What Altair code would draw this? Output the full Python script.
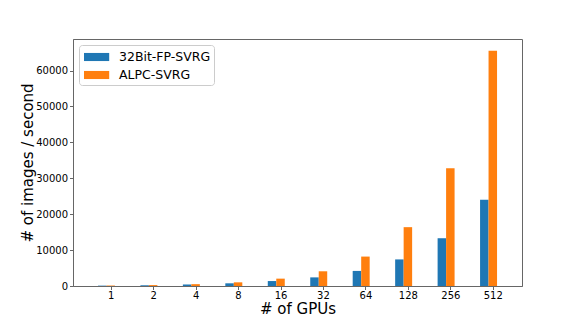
import altair as alt
import pandas as pd

gpus = ["1", "2", "4", "8", "16", "32", "64", "128", "256", "512"]
fp32_svrg = [100, 200, 420, 750, 1380, 2400, 4200, 7400, 13300, 24000]
alpc_svrg = [128, 256, 512, 1024, 2048, 4096, 8192, 16384, 32768, 65536]
series = ["32Bit-FP-SVRG", "ALPC-SVRG"]
colors = ["#1f77b4", "#ff7f0e"]

rows = []
for i, g in enumerate(gpus):
    rows.append({"idx": i, "gpus": g, "series": series[0], "value": fp32_svrg[i]})
    rows.append({"idx": i, "gpus": g, "series": series[1], "value": alpc_svrg[i]})
df = pd.DataFrame(rows)

label_expr = "[" + ",".join("'%s'" % g for g in gpus) + "][datum.value]"

chart = (
    alt.Chart(df)
    .transform_calculate(
        off="datum.series == '%s' ? 0 : -0.2" % series[1]
    )
    .transform_calculate(x0="datum.idx + datum.off - 0.1", x1="datum.idx + datum.off + 0.1")
    .mark_bar(orient="vertical")
    .encode(
        x=alt.X(
            "x0:Q",
            scale=alt.Scale(domain=[-0.77, 9.57], nice=False, zero=False),
            axis=alt.Axis(
                values=list(range(len(gpus))),
                labelExpr=label_expr,
                title="# of GPUs",
                titleFontSize=15,
                titleFontWeight="normal",
                titlePadding=1,
                labelFontSize=10,
                labelPadding=1,
                tickSize=3.5,
                grid=False,
            ),
        ),
        x2="x1:Q",
        y=alt.Y(
            "value:Q",
            scale=alt.Scale(domain=[0, 68775], nice=False),
            axis=alt.Axis(
                values=[0, 10000, 20000, 30000, 40000, 50000, 60000],
                format="d",
                title="# of images / second",
                titleFontSize=15,
                titleFontWeight="normal",
                titlePadding=0,
                labelFontSize=10,
                labelPadding=2,
                tickSize=3.5,
                grid=False,
            ),
        ),
        y2=alt.datum(0),
        color=alt.Color(
            "series:N",
            scale=alt.Scale(domain=series, range=colors),
            legend=alt.Legend(
                title=None,
                orient="none",
                legendX=6,
                legendY=6,
                strokeColor="#cccccc",
                fillColor="white",
                cornerRadius=3,
                padding=3,
                symbolType="M-0.778,-0.45H2.022V0.45H-0.778Z",
                symbolSize=324,
                symbolStrokeWidth=0,
                symbolOpacity=1,
                labelFontSize=12.5,
                labelOffset=19,
                rowPadding=2,
                labelColor="black",
            ),
        ),
    )
    .properties(
        width=449,
        height=247,
        autosize="none",
        padding={"left": 65, "top": 31, "right": 51, "bottom": 33},
    )
    .configure(font="DejaVu Sans")
    .configure_view(stroke="#666666", strokeWidth=1)
    .configure_axis(
        domainColor="#666666",
        tickColor="#666666",
        labelColor="black",
        titleColor="black",
        labelFont="DejaVu Sans",
        titleFont="DejaVu Sans",
    )
    .configure_legend(labelFont="DejaVu Sans")
)

chart.save("out.html", embed_options={"renderer": "svg", "actions": False})
